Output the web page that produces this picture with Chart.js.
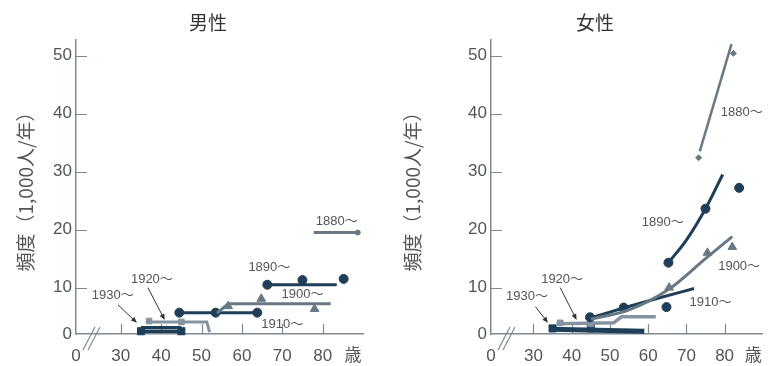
<!DOCTYPE html>
<html lang="ja">
<head>
<meta charset="utf-8">
<script src="https://cdn.jsdelivr.net/npm/chart.js@4.4.1/dist/chart.umd.min.js"></script>
<style>
  body { margin: 0; background: #fff; }
  .wrap { display: flex; width: 774px; height: 366px; }
  canvas { display: block; }
</style>
</head>
<body>
<div class="wrap">
  <canvas id="male" width="387" height="366"></canvas>
  <canvas id="female" width="387" height="366"></canvas>
</div>
<script>
// 横軸(年齢): 先頭は軸の切れ目で「0」と表示
const xTickValues = [18.9, 30, 40, 50, 60, 70, 80, 87.5];
const xTickLabels = ['0', '30', '40', '50', '60', '70', '80', '歳'];
const yTickValues = [0, 10, 20, 30, 40, 50];
const cohorts = ['1880～', '1890～', '1900～', '1910～', '1920～', '1930～'];

// 男性 [年齢, 頻度]
const m1880Line = [[77.8, 19.5], [88.7, 19.5]];
const m1880Pts = [[88.7, 19.5]];
const m1890Line = [[66.3, 10.5], [83.5, 10.5]];
const m1890Pts = [[66.3, 10.5], [75, 11.3], [85.2, 11.5]];
const m1900Line = [[53.8, 4.5], [56.6, 6.5], [82, 6.5]];
const m1900Pts = [[56.6, 6], [64.8, 7.6], [78, 5.4]];
const m1910Line = [[44.5, 4.6], [63.8, 4.6]];
const m1910Pts = [[44.5, 4.6], [53.5, 4.6], [63.8, 4.6]];
const m1920Line = [[36.5, 2.6], [51.3, 2.6], [52, 0.4]];
const m1920Pts = [[37, 2.8], [45, 2.6]];
const m1930Line = [[35, 1.4], [45, 1.4]];
const m1930Pts = [[35, 0.6], [45, 0.6]];

// 女性 [年齢, 頻度]
const f1880Line = [[73.5, 33.5], [81.8, 52]];
const f1880Pts = [[73.2, 32.4], [82.3, 50.4]];
const f1890Line = [[65.3, 14.3], [70, 18.2], [75, 23.6], [79.5, 29.5]];
const f1890Pts = [[65.3, 14.3], [75, 23.6], [83.8, 27.2]];
const f1900Line = [[45, 3.2], [55, 5.2], [65.5, 9.7], [75, 15], [82, 18.8]];
const f1900Pts = [[65.5, 10], [75.5, 16], [82, 17]];
const f1910Line = [[45, 3.5], [54, 5.7], [63, 7.8], [72, 9.8]];
const f1910Pts = [[44.8, 3.6], [53.6, 5.7], [64.8, 5.8]];
const f1920Line = [[36, 2.2], [51, 2.4], [53, 3.7], [62, 3.7]];
const f1920Pts = [[37, 2.4], [45, 2.2]];
const f1930Line = [[34.5, 1.0], [59, 0.6]];
const f1930Pts = [[35, 1.2], [45, 1.2]];

// コホート名の位置と引き出し線
const maleNotes = [[83.5, 21.4], [66.8, 13.4], [75, 8.5], [70, 2.0], [37.7, 11.4], [28, 8.3]];
const femaleNotes = [[84.5, 40.2], [63.8, 21.2], [83.8, 13.6], [76.3, 6.7], [37.5, 11.4], [28.3, 8.0]];
const maleArrows = [[36.7, 10, 40.9, 3.0], [29.3, 6.3, 34, 2.4]];
const femaleArrows = [[37, 10, 41.3, 3.0], [30.5, 5.9, 33.8, 2.4]];

const DARK = '#1f3e58';
const GRAY = '#687985';
const LIGHT = '#8593a0';
const AXIS = '#7e8b95';
const TEXT = '#555';

// 0〜10 の区間だけ縮めて描く縦軸
const LOW_TOP = 10;
const LOW_RATE = 0.8;
class CompressedLinear extends Chart.LinearScale {
  static id = 'compressedLinear';
  toDecimal(v) {
    const u = Math.min(v, LOW_TOP) * LOW_RATE + Math.max(v - LOW_TOP, 0);
    const total = LOW_TOP * LOW_RATE + (this.max - LOW_TOP);
    return u / total;
  }
  getPixelForValue(value) {
    if (value === null || value === undefined) return NaN;
    return this.getPixelForDecimal(this.toDecimal(value));
  }
  getValueForPixel(pixel) {
    const total = LOW_TOP * LOW_RATE + (this.max - LOW_TOP);
    const u = this.getDecimalForPixel(pixel) * total;
    return u <= LOW_TOP * LOW_RATE ? u / LOW_RATE : u - LOW_TOP * LOW_RATE + LOW_TOP;
  }
}
Chart.register(CompressedLinear);

const xy = arr => arr.map(([x, y]) => ({ x, y }));

function lineSet(data, color, width, smooth) {
  return {
    data: xy(data), showLine: true, borderColor: color, borderWidth: width,
    pointRadius: 0, tension: smooth ? 0.4 : 0,
    cubicInterpolationMode: smooth ? 'monotone' : 'default', clip: false
  };
}
function pointSet(data, color, style, r) {
  return {
    data: xy(data), showLine: false, backgroundColor: color, borderColor: color,
    borderWidth: 1, pointStyle: style, pointRadius: r, clip: false
  };
}

function decorPlugin(title, notes, arrows) {
  return {
    id: 'decor',
    beforeDatasetsDraw(chart) {
      const { ctx, chartArea: a, scales: { x, y } } = chart;
      ctx.save();
      ctx.strokeStyle = AXIS;
      ctx.lineWidth = 1.2;
      ctx.beginPath();
      // 内向きの目盛
      yTickValues.slice(1).forEach(v => {
        const py = Math.round(y.getPixelForValue(v)) + 0.5;
        ctx.moveTo(a.left, py);
        ctx.lineTo(a.left + 11, py);
      });
      xTickValues.slice(1, -1).forEach(v => {
        const px = Math.round(x.getPixelForValue(v)) + 0.5;
        ctx.moveTo(px, a.bottom);
        ctx.lineTo(px, a.bottom - 10);
      });
      // 軸の切れ目 //
      [0, 5].forEach(d => {
        ctx.moveTo(a.left + 7 + d, a.bottom + 16);
        ctx.lineTo(a.left + 19 + d, a.bottom - 7);
      });
      ctx.stroke();
      ctx.restore();
    },
    afterDraw(chart) {
      const { ctx, scales: { x, y } } = chart;
      ctx.save();
      ctx.fillStyle = '#333';
      ctx.font = '19px "Noto Sans CJK JP", sans-serif';
      ctx.textAlign = 'center';
      ctx.textBaseline = 'middle';
      ctx.fillText(title, 208, 23);

      ctx.fillStyle = TEXT;
      ctx.font = '13px "Liberation Sans", "Noto Sans CJK JP", sans-serif';
      notes.forEach(([vx, vy], i) => {
        ctx.fillText(cohorts[i], x.getPixelForValue(vx), y.getPixelForValue(vy));
      });

      ctx.strokeStyle = '#333';
      ctx.fillStyle = '#333';
      ctx.lineWidth = 1;
      arrows.forEach(([x0, y0, x1, y1]) => {
        const sx = x.getPixelForValue(x0), sy = y.getPixelForValue(y0);
        const ex = x.getPixelForValue(x1), ey = y.getPixelForValue(y1);
        const ang = Math.atan2(ey - sy, ex - sx);
        ctx.beginPath();
        ctx.moveTo(sx, sy);
        ctx.lineTo(ex - 5 * Math.cos(ang), ey - 5 * Math.sin(ang));
        ctx.stroke();
        ctx.beginPath();
        ctx.moveTo(ex, ey);
        ctx.lineTo(ex - 6 * Math.cos(ang) + 2.5 * Math.sin(ang), ey - 6 * Math.sin(ang) - 2.5 * Math.cos(ang));
        ctx.lineTo(ex - 6 * Math.cos(ang) - 2.5 * Math.sin(ang), ey - 6 * Math.sin(ang) + 2.5 * Math.cos(ang));
        ctx.closePath();
        ctx.fill();
      });
      ctx.restore();
    }
  };
}

function makeChart(id, datasets, title, notes, arrows, axisWidth, padRight) {
  return new Chart(document.getElementById(id), {
    type: 'scatter',
    data: { datasets },
    options: {
      responsive: false,
      animation: false,
      layout: { padding: { top: 40, left: 0, right: padRight, bottom: 0 } },
      plugins: { legend: { display: false }, tooltip: { enabled: false } },
      scales: {
        x: {
          type: 'linear', min: 18.9, max: 90,
          afterBuildTicks: s => { s.ticks = xTickValues.map(v => ({ value: v })); },
          afterFit: s => { s.height = 32; },
          grid: { display: false, drawTicks: false },
          border: { color: AXIS, width: 1.5 },
          ticks: {
            autoSkip: false, maxRotation: 0, padding: 12, color: TEXT,
            font: { family: '"Liberation Sans", "Noto Sans CJK JP", sans-serif', size: 17 },
            callback: (v, i) => xTickLabels[i]
          }
        },
        y: {
          type: 'compressedLinear', min: 0, max: 52.7,
          afterBuildTicks: s => { s.ticks = yTickValues.map(v => ({ value: v })); },
          afterFit: s => { s.width = axisWidth; },
          grid: { display: false, drawTicks: false },
          border: { color: AXIS, width: 1.5 },
          ticks: {
            padding: 4, color: TEXT,
            font: { family: '"Liberation Sans", sans-serif', size: 17 }
          },
          title: {
            display: true, text: '頻度（1,000人/年）', color: TEXT,
            padding: { top: 14, bottom: 0 },
            font: { family: '"Noto Sans CJK JP", sans-serif', size: 19 }
          }
        }
      }
    },
    plugins: [decorPlugin(title, notes, arrows)]
  });
}

makeChart('male', [
  lineSet(m1880Line, GRAY, 3), pointSet(m1880Pts, GRAY, 'circle', 2.5),
  lineSet(m1890Line, DARK, 3), pointSet(m1890Pts, DARK, 'circle', 4.5),
  lineSet(m1900Line, GRAY, 3), pointSet(m1900Pts, GRAY, 'triangle', 5),
  lineSet(m1910Line, DARK, 3), pointSet(m1910Pts, DARK, 'circle', 4.5),
  lineSet(m1920Line, LIGHT, 3), pointSet(m1920Pts, LIGHT, 'rect', 4),
  lineSet(m1930Line, DARK, 3), lineSet(m1930Pts, DARK, 3.5), pointSet(m1930Pts, DARK, 'rect', 5)
], '男性', maleNotes, maleArrows, 76, 24);

makeChart('female', [
  lineSet(f1880Line, GRAY, 2.5), pointSet(f1880Pts, GRAY, 'rectRot', 3),
  lineSet(f1890Line, DARK, 3, true), pointSet(f1890Pts, DARK, 'circle', 4.5),
  lineSet(f1900Line, GRAY, 3, true), pointSet(f1900Pts, GRAY, 'triangle', 5),
  lineSet(f1910Line, DARK, 3, true), pointSet(f1910Pts, DARK, 'circle', 4.5),
  lineSet(f1920Line, LIGHT, 3.5), pointSet(f1920Pts, LIGHT, 'rect', 4),
  lineSet(f1930Line, DARK, 5), pointSet(f1930Pts, DARK, 'rect', 5)
], '女性', femaleNotes, femaleArrows, 104, 0);
</script>
</body>
</html>
